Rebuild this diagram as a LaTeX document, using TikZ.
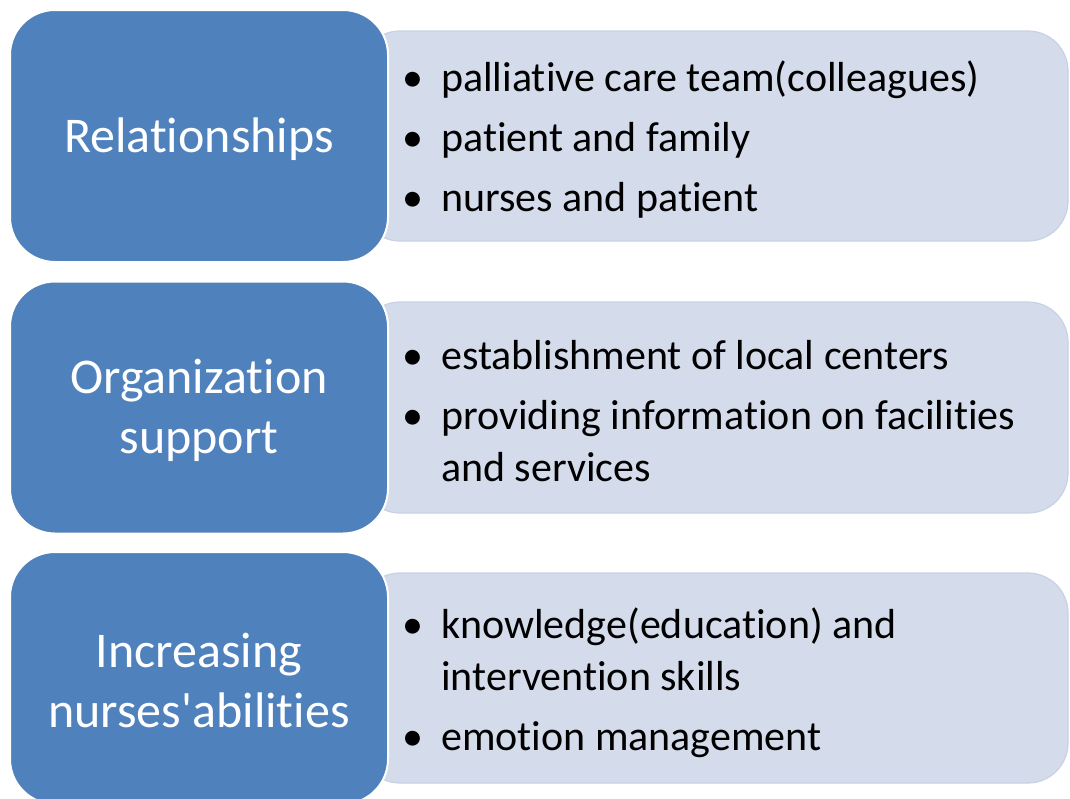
\documentclass[tikz,border=0pt]{standalone}
\usepackage{fontspec}
\setmainfont{Carlito}[Ligatures=NoCommon]
\usepackage{tikz}
\usetikzlibrary{positioning}

\definecolor{headblue}{HTML}{4F81BD}
\definecolor{listfill}{HTML}{D4DBEB}
\definecolor{listline}{HTML}{C9D1E5}

\newcommand{\bulletitem}[1]{\makebox[39pt][l]{\textbullet}#1}
\newcommand{\contline}[1]{\hspace*{39pt}#1}

\begin{document}
\begin{tikzpicture}[x=1pt,y=-1pt,
  headbox/.style={draw=white, line width=2pt, fill=headblue, rounded corners=45pt,
    minimum width=378pt, minimum height=252pt, inner sep=0pt},
  headtext/.style={align=center, inner sep=0pt, text=white,
    font=\fontsize{50}{60}\selectfont},
  listbox/.style={draw=listline, line width=1.2pt, fill=listfill, rounded corners=40pt},
  listtext/.style={anchor=west, inner sep=0pt, align=left,
    font=\fontsize{42}{52}\selectfont}]
  \useasboundingbox (0,0) rectangle (1070,798);

  % light panels behind the headings
  \draw[listbox] (360,31) rectangle (1068,241);
  \draw[listbox] (360,302) rectangle (1068,513);
  \draw[listbox] (360,573) rectangle (1068,783);

  % headings
  \node[headbox] (rel) at (199,136) {};
  \node[headbox] (org) at (199,407.5) {};
  \node[headbox] (inc) at (199,678) {};
  \node[headtext] (relText) at ([yshift=-3pt]rel.center) {Relationships};
  \node[headtext] (orgText) at ([yshift=-3pt]org.center) {Organization\\support};
  \node[headtext] (incText) at ([yshift=-2pt]inc.center) {Increasing\\nurses\textquotesingle abilities};

  % bullet lists
  \node[listtext] (relList) at (402,140) {\bulletitem{palliative care team(colleagues)}\\[8pt]
    \bulletitem{patient and family}\\[8pt]
    \bulletitem{nurses and patient}};
  \node[listtext] (orgList) at (402,411) {\bulletitem{establishment of local centers}\\[8pt]
    \bulletitem{providing information on facilities}\\
    \contline{and services}};
  \node[listtext] (incList) at (402,683) {\bulletitem{knowledge(education) and}\\
    \contline{intervention skills}\\[8pt]
    \bulletitem{emotion management}};
\end{tikzpicture}
\end{document}
